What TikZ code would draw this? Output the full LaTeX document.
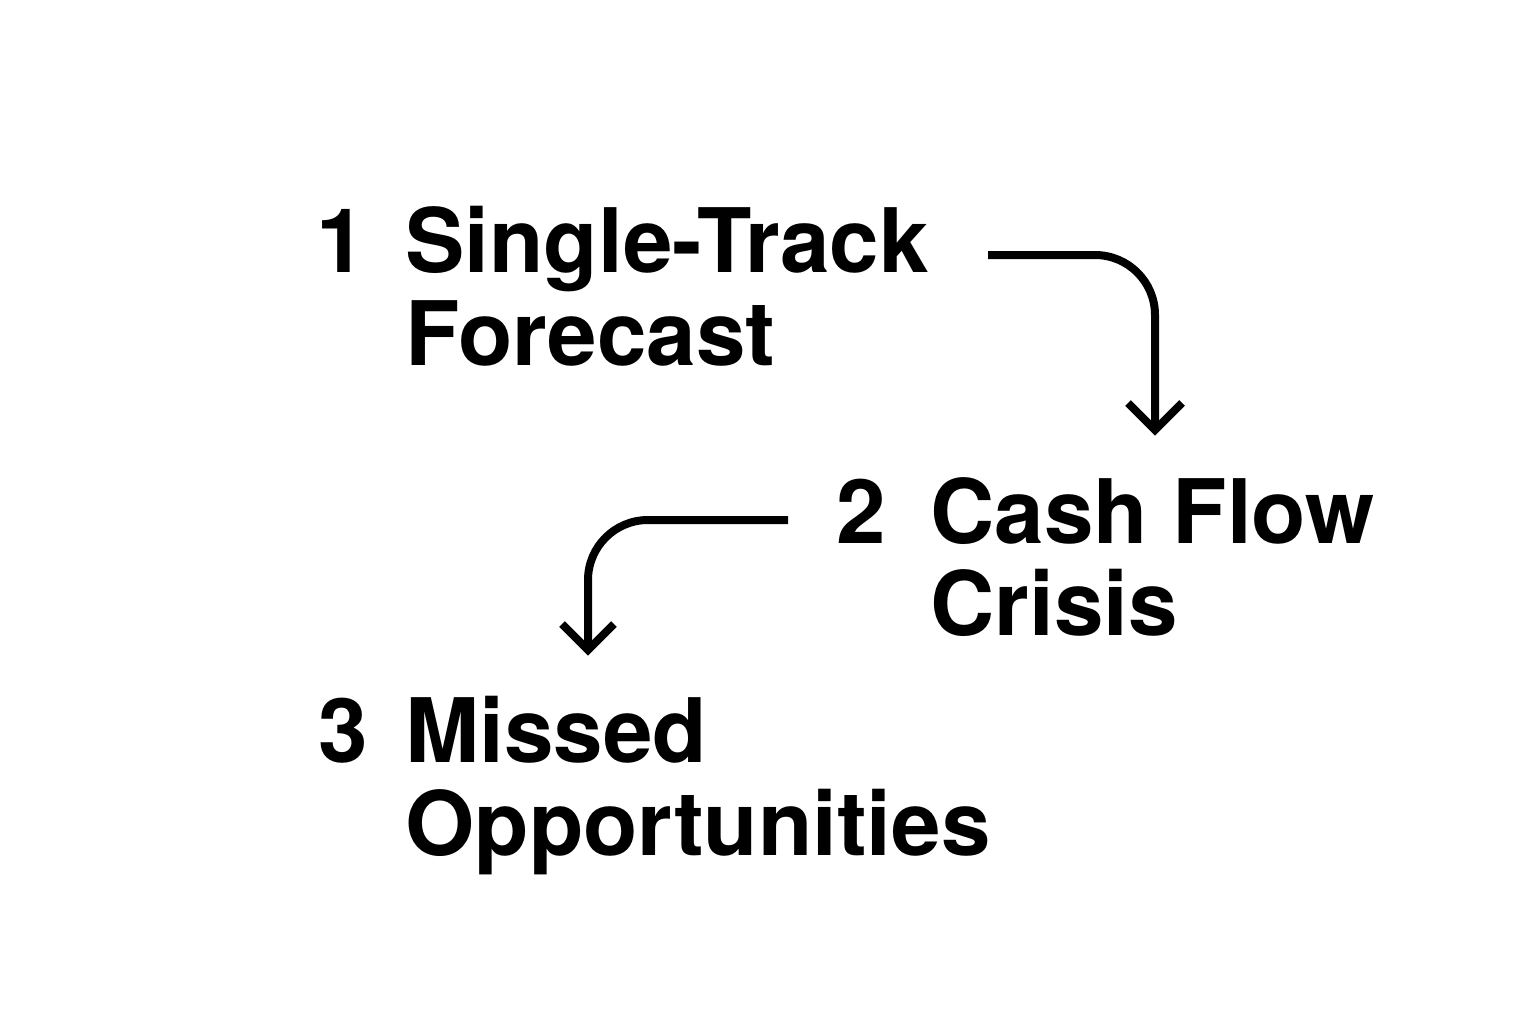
\documentclass[tikz,border=0pt]{standalone}
\usepackage{fontspec}
\setmainfont{TeX Gyre Heros}
\begin{document}
\begin{tikzpicture}[x=0.5pt,y=-0.5pt,
  lbl/.style={anchor=base west,inner sep=0pt,font=\fontsize{44.5}{44.5}\selectfont\bfseries},
  conn/.style={line width=4pt,rounded corners=30pt},
  chev/.style={line width=4pt}]
\useasboundingbox (0,0) rectangle (1536,1024);
\node[lbl] (n1) at (316,272) {1};
\node[lbl] (t1a) at (405,272) {Single-Track};
\node[lbl] (t1b) at (405,365) {Forecast};
\node[lbl] (n2) at (836,543) {2};
\node[lbl] (t2a) at (930,543) {Cash Flow};
\node[lbl] (t2b) at (930,635) {Crisis};
\node[lbl] (n3) at (318,762) {3};
\node[lbl] (t3a) at (405,762) {Missed};
\node[lbl] (t3b) at (405,855) {Opportunities};
\coordinate (a1s) at (988,255);
\coordinate (a1e) at (1155,430);
\coordinate (a2s) at (788,520);
\coordinate (a2e) at (588,650);
\draw[conn] (a1s) -- (a1e |- a1s) -- (a1e);
\draw[chev] (a1e) +(-27,-27) -- (a1e) -- +(27,-27);
\draw[conn] (a2s) -- (a2e |- a2s) -- (a2e);
\draw[chev] (a2e) +(-26,-26) -- (a2e) -- +(26,-26);
\end{tikzpicture}
\end{document}
